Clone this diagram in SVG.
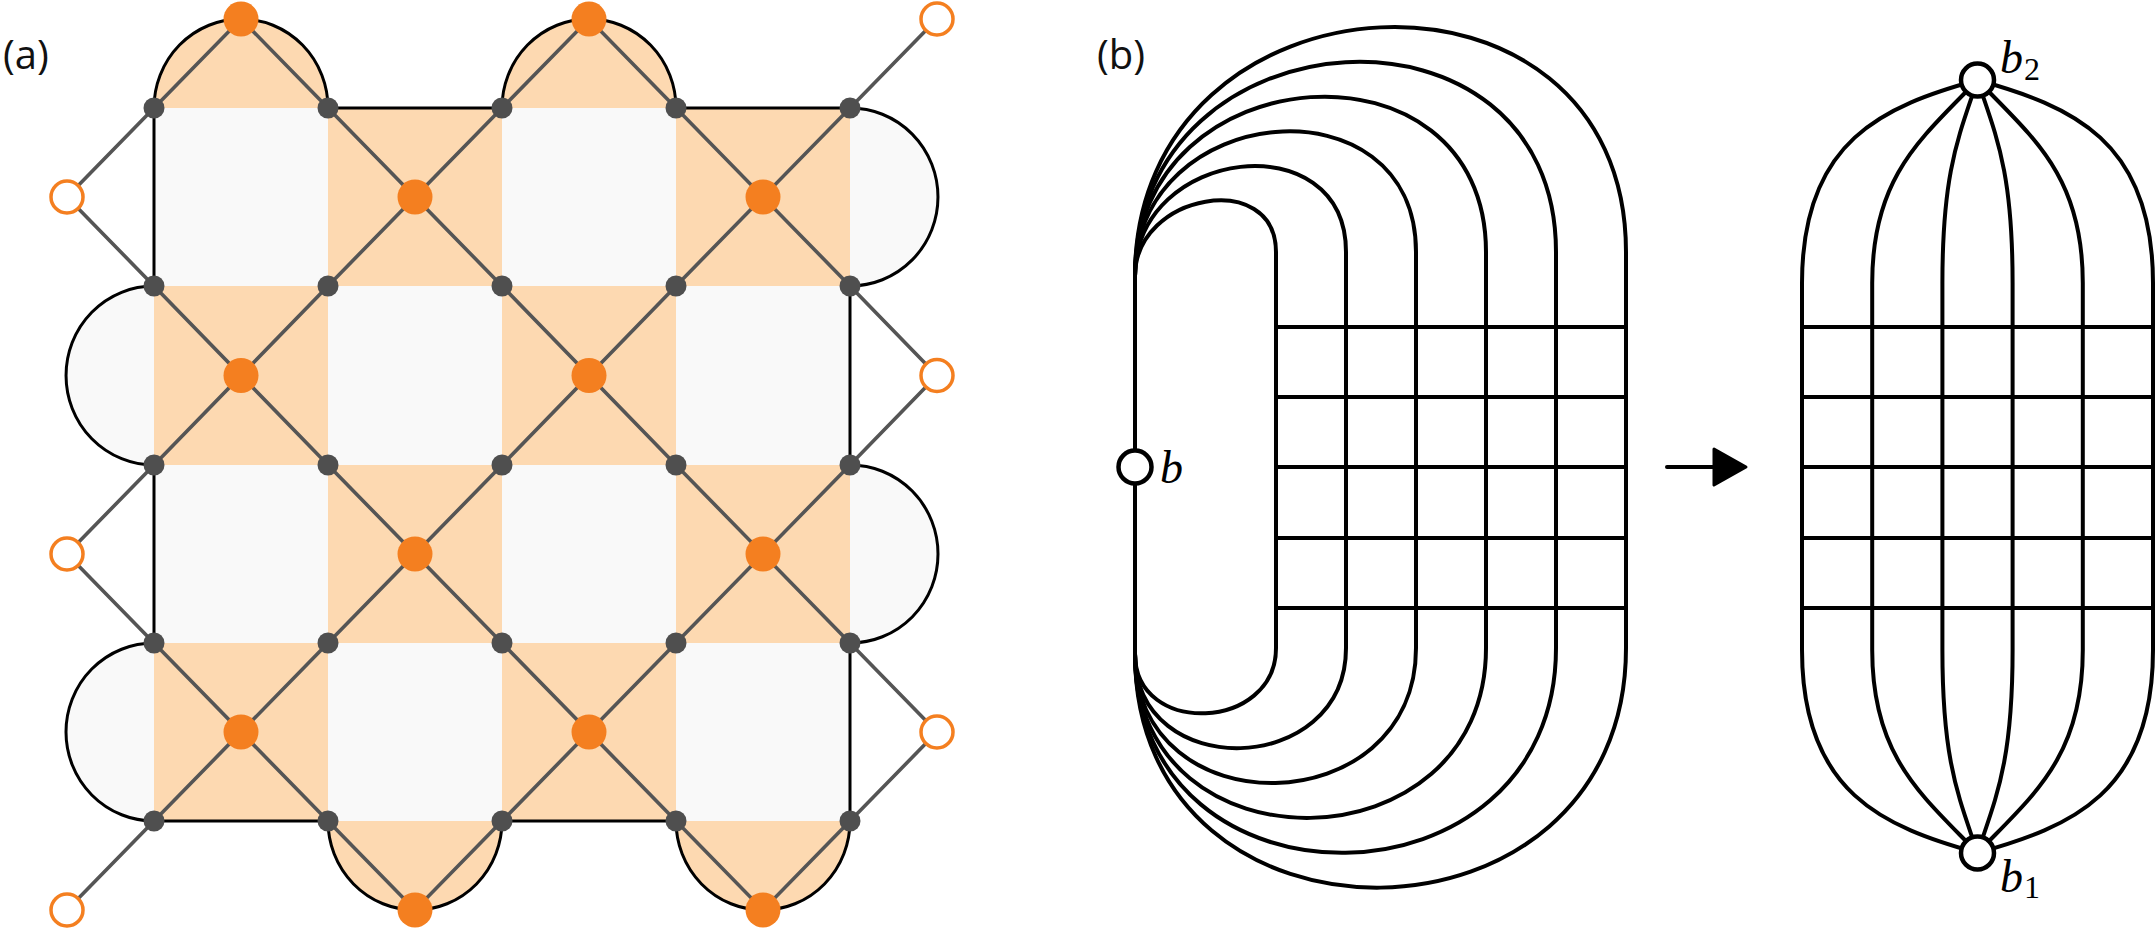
<svg xmlns="http://www.w3.org/2000/svg" width="2156" height="930" viewBox="0 0 2156 930">
<style>
.lab{font-family:"Open Sans","Liberation Sans",sans-serif;font-size:40px;fill:#111}
.math{font-family:"Liberation Serif","DejaVu Serif",serif;font-style:italic;font-size:46px;fill:#000}
.sub{font-family:"Liberation Serif","DejaVu Serif",serif;font-style:normal;font-size:32px}
.oc{fill:#FDD9B1}
.gc{fill:#F9F9F9}
.edge{stroke:#000;stroke-width:3;fill:none}
.gl{stroke:#555;stroke-width:3.6;stroke-linecap:round}
.gn{fill:#4F4F4F}
.on{fill:#F47F20}
.oo{fill:#fff;stroke:#F47F20;stroke-width:3.5}
.bl{stroke:#000;stroke-width:4;fill:none}
.bn{fill:#fff;stroke:#000;stroke-width:4.5}
</style>
<text class="lab" x="3" y="69">(a)</text>
<text class="lab" x="1097" y="69">(b)</text>

<!-- panel (a) faces -->
<g id="faces">
<rect class="gc" x="154" y="108" width="174" height="178"/>
<rect class="oc" x="328" y="108" width="174" height="178"/>
<rect class="gc" x="502" y="108" width="174" height="178"/>
<rect class="oc" x="676" y="108" width="174" height="178"/>
<rect class="oc" x="154" y="286" width="174" height="179"/>
<rect class="gc" x="328" y="286" width="174" height="179"/>
<rect class="oc" x="502" y="286" width="174" height="179"/>
<rect class="gc" x="676" y="286" width="174" height="179"/>
<rect class="gc" x="154" y="465" width="174" height="178"/>
<rect class="oc" x="328" y="465" width="174" height="178"/>
<rect class="gc" x="502" y="465" width="174" height="178"/>
<rect class="oc" x="676" y="465" width="174" height="178"/>
<rect class="oc" x="154" y="643" width="174" height="178"/>
<rect class="gc" x="328" y="643" width="174" height="178"/>
<rect class="oc" x="502" y="643" width="174" height="178"/>
<rect class="gc" x="676" y="643" width="174" height="178"/>
<path class="oc" d="M154,108 A87,89 0 0 1 328,108 Z"/>
<path class="oc" d="M502,108 A87,89 0 0 1 676,108 Z"/>
<path class="oc" d="M328,821 A87,89 0 0 0 502,821 Z"/>
<path class="oc" d="M676,821 A87,89 0 0 0 850,821 Z"/>
<path class="gc" d="M154,286 A88,89.5 0 0 0 154,465 Z"/>
<path class="gc" d="M154,643 A88,89 0 0 0 154,821 Z"/>
<path class="gc" d="M850,108 A88,89 0 0 1 850,286 Z"/>
<path class="gc" d="M850,465 A88,89 0 0 1 850,643 Z"/>
</g>

<g id="connectors">
<!-- outer boundary -->
<path class="edge" d="M154,108 A87,89 0 0 1 328,108 L502,108 A87,89 0 0 1 676,108 L850,108 A88,89 0 0 1 850,286 L850,465 A88,89 0 0 1 850,643 L850,821 A87,89 0 0 1 676,821 L502,821 A87,89 0 0 1 328,821 L154,821 A88,89 0 0 1 154,643 L154,465 A88,89.5 0 0 1 154,286 Z"/>
<!-- diagonals -->
<line class="gl" x1="328" y1="108" x2="502" y2="286"/><line class="gl" x1="502" y1="108" x2="328" y2="286"/>
<line class="gl" x1="676" y1="108" x2="850" y2="286"/><line class="gl" x1="850" y1="108" x2="676" y2="286"/>
<line class="gl" x1="154" y1="286" x2="328" y2="465"/><line class="gl" x1="328" y1="286" x2="154" y2="465"/>
<line class="gl" x1="502" y1="286" x2="676" y2="465"/><line class="gl" x1="676" y1="286" x2="502" y2="465"/>
<line class="gl" x1="328" y1="465" x2="502" y2="643"/><line class="gl" x1="502" y1="465" x2="328" y2="643"/>
<line class="gl" x1="676" y1="465" x2="850" y2="643"/><line class="gl" x1="850" y1="465" x2="676" y2="643"/>
<line class="gl" x1="154" y1="643" x2="328" y2="821"/><line class="gl" x1="328" y1="643" x2="154" y2="821"/>
<line class="gl" x1="502" y1="643" x2="676" y2="821"/><line class="gl" x1="676" y1="643" x2="502" y2="821"/>
<polyline class="gl" fill="none" points="154,108 241,19 328,108"/>
<polyline class="gl" fill="none" points="502,108 589,19 676,108"/>
<polyline class="gl" fill="none" points="328,821 415,910 502,821"/>
<polyline class="gl" fill="none" points="676,821 763,910 850,821"/>
<polyline class="gl" fill="none" points="154,108 67,197 154,286"/>
<polyline class="gl" fill="none" points="154,465 67,554 154,643"/>
<line class="gl" x1="154" y1="821" x2="67" y2="910"/>
<line class="gl" x1="850" y1="108" x2="937" y2="19"/>
<polyline class="gl" fill="none" points="850,286 937,375.5 850,465"/>
<polyline class="gl" fill="none" points="850,643 937,732 850,821"/>

<!-- panel (b) left figure -->
<line class="bl" x1="1135" y1="276" x2="1135" y2="654"/>
<path class="bl" d="M1135,276 C1135,193 1276,169 1276,252 L1276,648 C1276,731 1135,737 1135,654"/>
<path class="bl" d="M1135,276 C1135,146.5 1346,122.5 1346,252 L1346,648 C1346,777.5 1135,783.5 1135,654"/>
<path class="bl" d="M1135,276 C1135,100 1416,76 1416,252 L1416,648 C1416,824 1135,830 1135,654"/>
<path class="bl" d="M1135,276 C1135,53.5 1486,29.5 1486,252 L1486,648 C1486,870.5 1135,876.5 1135,654"/>
<path class="bl" d="M1135,276 C1135,7 1556,-17 1556,252 L1556,648 C1556,917 1135,923 1135,654"/>
<path class="bl" d="M1135,276 C1135,-39.5 1626,-63.5 1626,252 L1626,648 C1626,963.5 1135,969.5 1135,654"/>
<line class="bl" x1="1276" y1="327" x2="1626" y2="327"/>
<line class="bl" x1="1276" y1="397" x2="1626" y2="397"/>
<line class="bl" x1="1276" y1="467" x2="1626" y2="467"/>
<line class="bl" x1="1276" y1="538" x2="1626" y2="538"/>
<line class="bl" x1="1276" y1="608" x2="1626" y2="608"/>

<!-- arrow -->
<line class="bl" x1="1667" y1="467" x2="1716" y2="467" stroke-linecap="round"/>
<polygon points="1714,449 1746,467 1714,485" fill="#000" stroke="#000" stroke-width="3" stroke-linejoin="round"/>

<!-- panel (b) right figure -->
<path class="bl" d="M1802,283 C1802,140 1884,106 1977.5,80"/>
<path class="bl" d="M1872.2,283 C1872.2,175 1923,137 1977.5,80"/>
<path class="bl" d="M1942.4,283 C1942.4,170 1959,136 1977.5,80"/>
<path class="bl" d="M2012.6,283 C2012.6,170 1996,136 1977.5,80"/>
<path class="bl" d="M2082.8,283 C2082.8,175 2032,137 1977.5,80"/>
<path class="bl" d="M2153,283 C2153,140 2071,106 1977.5,80"/>
<path class="bl" d="M1802,650 C1802,793 1884,827 1977.5,853"/>
<path class="bl" d="M1872.2,650 C1872.2,758 1923,796 1977.5,853"/>
<path class="bl" d="M1942.4,650 C1942.4,763 1959,797 1977.5,853"/>
<path class="bl" d="M2012.6,650 C2012.6,763 1996,797 1977.5,853"/>
<path class="bl" d="M2082.8,650 C2082.8,758 2032,796 1977.5,853"/>
<path class="bl" d="M2153,650 C2153,793 2071,827 1977.5,853"/>
<line class="bl" x1="1802" y1="283" x2="1802" y2="650"/>
<line class="bl" x1="1872.2" y1="283" x2="1872.2" y2="650"/>
<line class="bl" x1="1942.4" y1="283" x2="1942.4" y2="650"/>
<line class="bl" x1="2012.6" y1="283" x2="2012.6" y2="650"/>
<line class="bl" x1="2082.8" y1="283" x2="2082.8" y2="650"/>
<line class="bl" x1="2153" y1="283" x2="2153" y2="650"/>
<line class="bl" x1="1802" y1="327" x2="2153" y2="327"/>
<line class="bl" x1="1802" y1="397" x2="2153" y2="397"/>
<line class="bl" x1="1802" y1="467" x2="2153" y2="467"/>
<line class="bl" x1="1802" y1="538" x2="2153" y2="538"/>
<line class="bl" x1="1802" y1="608" x2="2153" y2="608"/>
</g>

<!-- panel (a) nodes -->
<g id="gray-nodes">
<circle id="g00" class="gn" cx="154" cy="108" r="10.5"/><circle id="g10" class="gn" cx="328" cy="108" r="10.5"/><circle id="g20" class="gn" cx="502" cy="108" r="10.5"/><circle id="g30" class="gn" cx="676" cy="108" r="10.5"/><circle id="g40" class="gn" cx="850" cy="108" r="10.5"/>
<circle id="g01" class="gn" cx="154" cy="286" r="10.5"/><circle id="g11" class="gn" cx="328" cy="286" r="10.5"/><circle id="g21" class="gn" cx="502" cy="286" r="10.5"/><circle id="g31" class="gn" cx="676" cy="286" r="10.5"/><circle id="g41" class="gn" cx="850" cy="286" r="10.5"/>
<circle id="g02" class="gn" cx="154" cy="465" r="10.5"/><circle id="g12" class="gn" cx="328" cy="465" r="10.5"/><circle id="g22" class="gn" cx="502" cy="465" r="10.5"/><circle id="g32" class="gn" cx="676" cy="465" r="10.5"/><circle id="g42" class="gn" cx="850" cy="465" r="10.5"/>
<circle id="g03" class="gn" cx="154" cy="643" r="10.5"/><circle id="g13" class="gn" cx="328" cy="643" r="10.5"/><circle id="g23" class="gn" cx="502" cy="643" r="10.5"/><circle id="g33" class="gn" cx="676" cy="643" r="10.5"/><circle id="g43" class="gn" cx="850" cy="643" r="10.5"/>
<circle id="g04" class="gn" cx="154" cy="821" r="10.5"/><circle id="g14" class="gn" cx="328" cy="821" r="10.5"/><circle id="g24" class="gn" cx="502" cy="821" r="10.5"/><circle id="g34" class="gn" cx="676" cy="821" r="10.5"/><circle id="g44" class="gn" cx="850" cy="821" r="10.5"/>
</g>
<g id="orange-nodes">
<circle id="o1" class="on" cx="241" cy="19" r="17.5"/><circle id="o2" class="on" cx="589" cy="19" r="17.5"/>
<circle id="o3" class="on" cx="415" cy="197" r="17.5"/><circle id="o4" class="on" cx="763" cy="197" r="17.5"/>
<circle id="o5" class="on" cx="241" cy="375.5" r="17.5"/><circle id="o6" class="on" cx="589" cy="375.5" r="17.5"/>
<circle id="o7" class="on" cx="415" cy="554" r="17.5"/><circle id="o8" class="on" cx="763" cy="554" r="17.5"/>
<circle id="o9" class="on" cx="241" cy="732" r="17.5"/><circle id="o10" class="on" cx="589" cy="732" r="17.5"/>
<circle id="o11" class="on" cx="415" cy="910" r="17.5"/><circle id="o12" class="on" cx="763" cy="910" r="17.5"/>
</g>
<g id="open-nodes">
<circle id="p1" class="oo" cx="67" cy="197" r="16"/><circle id="p2" class="oo" cx="67" cy="554" r="16"/><circle id="p3" class="oo" cx="67" cy="910" r="16"/>
<circle id="p4" class="oo" cx="937" cy="19" r="16"/><circle id="p5" class="oo" cx="937" cy="375.5" r="16"/><circle id="p6" class="oo" cx="937" cy="732" r="16"/>
</g>

<!-- panel (b) nodes -->
<g id="node-b">
<circle class="bn" cx="1135" cy="467" r="16.5"/>
<text class="math" x="1160" y="483">b</text>
</g>
<g id="node-b2">
<circle class="bn" cx="1977.5" cy="80" r="16.5"/>
<text class="math" x="2000" y="73">b<tspan class="sub" dx="1" dy="7">2</tspan></text>
</g>
<g id="node-b1">
<circle class="bn" cx="1977.5" cy="853" r="16.5"/>
<text class="math" x="2000" y="892">b<tspan class="sub" dx="1" dy="6">1</tspan></text>
</g>
</svg>
